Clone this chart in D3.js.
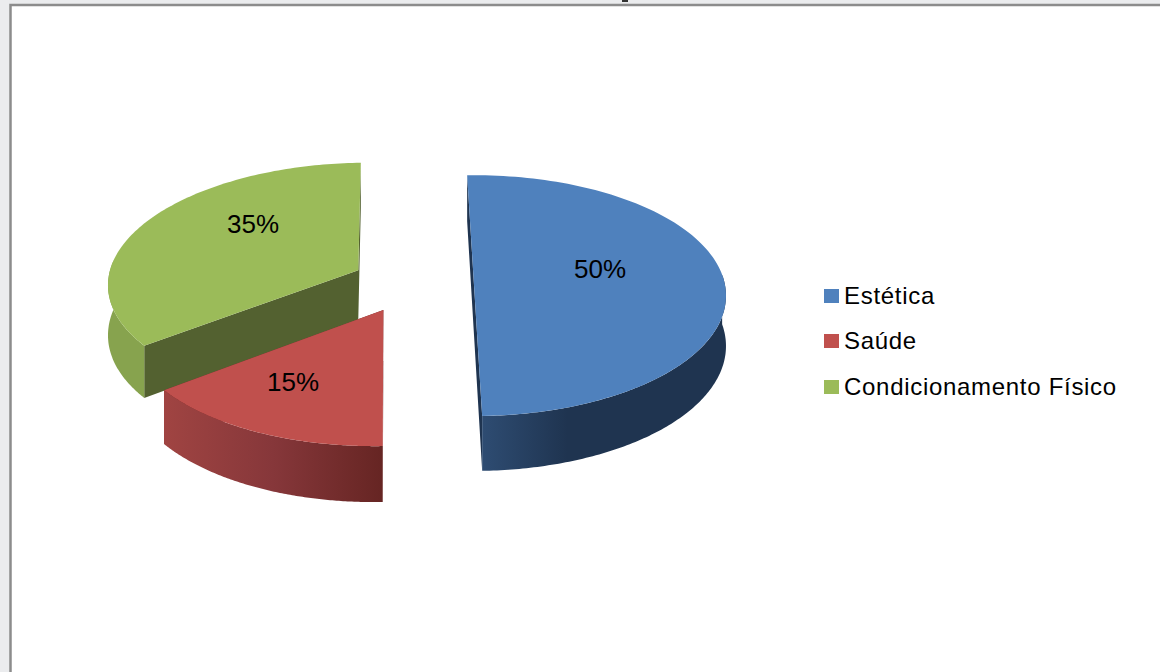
<!DOCTYPE html>
<html><head><meta charset="utf-8">
<script src="https://cdn.jsdelivr.net/npm/d3@7"></script>
<style>html,body{margin:0;padding:0;background:#ebecee;overflow:hidden}svg{display:block}text{font-family:"Liberation Sans",Arial,sans-serif;fill:#000}</style>
</head><body><svg id="c" width="1160" height="672"></svg>
<script>
// Data
const categories = ["Estética", "Saúde", "Condicionamento Físico"];
const values = [50, 15, 35];
const labels = ["50%", "15%", "35%"];
const topColors = ["#4f81bd", "#c0504d", "#9bbb59"];
const wallColors = ["#1f3450", "#662523", "#536130"];
const sideFrom = ["#2e4c72", "#a04442", "#87a34e"];
const sideMid = ["#1f3450", "#86373a", "#87a34e"];
const sideTo = ["#1f3450", "#662523", "#87a34e"];
// Exploded slice offsets on the pie's ground plane (layout)
const explodeX = [0, -89, -117];
const explodeY = [0, 24.5, -15];
const labelPos = [[600, 269], [293, 382], [253, 224]];
const legendY = [296, 341, 387];

// Layout
const x0 = 474, y0 = 285, R = 251, k = 0.476, q = 0.00074, depth = 50;
const svg = d3.select("#c");
const deg = Math.PI / 180;

// Frame
svg.append("rect").attr("x", 10.5).attr("y", 5).attr("width", 1160).attr("height", 680)
  .attr("fill", "#fff").attr("stroke", "#8c8c8c").attr("stroke-width", 2.5);
svg.append("rect").attr("x", 622).attr("y", 0).attr("width", 6).attr("height", 2).attr("fill", "#333");

const pie = d3.pie().sort(null).value(d => d).startAngle(-1.7 * deg).endAngle(358.3 * deg);
const arcs = pie(values);

function project(i, u, v, d) {
  const X = explodeX[i] + R * u, Y = explodeY[i] + R * k * v;
  const w = 1 - q * Y;
  return [x0 + X / w, y0 + (Y + (d || 0)) / w];
}
const onRim = (i, a, d) => project(i, Math.sin(a), -Math.cos(a), d);
const line = d3.line();
const defs = svg.append("defs");

arcs.forEach((s, i) => {
  const g = defs.append("linearGradient").attr("id", "side" + i);
  g.append("stop").attr("offset", "0%").attr("stop-color", sideFrom[i]);
  g.append("stop").attr("offset", i === 0 ? "35%" : "50%").attr("stop-color", sideMid[i]);
  g.append("stop").attr("offset", "100%").attr("stop-color", sideTo[i]);
});

[2, 1, 0].forEach(i => {
  const s = arcs[i], g = svg.append("g");
  const rim = (a, b, d) => d3.range(0, 121).map(t => onRim(i, a + (b - a) * t / 120, d));
  // Cut walls
  const apexT = project(i, 0, 0, 0), apexB = project(i, 0, 0, depth);
  g.append("path").attr("fill", wallColors[i]).attr("d", line([
    onRim(i, s.endAngle, 0), apexT, onRim(i, s.startAngle, 0),
    onRim(i, s.startAngle, depth), apexB, onRim(i, s.endAngle, depth)]) + "Z");
  // Outer rim
  const a = Math.max(s.startAngle, 85 * deg), b = Math.min(s.endAngle, 275 * deg);
  if (b > a) {
    const frontOnly = i === 0 ? [Math.min(a, b), b] : [a, b];
    g.append("path").attr("fill", `url(#side${i})`).attr("d",
      line(rim(frontOnly[0], frontOnly[1], 0).concat(rim(frontOnly[1], frontOnly[0], depth))) + "Z");
  }
  // Top
  g.append("path").attr("fill", topColors[i]).attr("d",
    line([apexT].concat(rim(s.startAngle, s.endAngle, 0))) + "Z");
});

// Data labels
svg.selectAll("text.pct").data(labels).join("text").attr("class", "pct")
  .attr("x", (d, i) => labelPos[i][0]).attr("y", (d, i) => labelPos[i][1])
  .attr("text-anchor", "middle").attr("dominant-baseline", "central")
  .attr("font-size", 26).text(d => d);

// Legend
const legend = svg.selectAll("g.leg").data(categories).join("g").attr("class", "leg")
  .attr("transform", (d, i) => `translate(824,${legendY[i]})`);
legend.append("rect").attr("x", 0).attr("y", -7).attr("width", 15).attr("height", 14)
  .attr("fill", (d, i) => topColors[i]);
legend.append("text").attr("x", 20).attr("y", 8).attr("font-size", 24)
  .attr("letter-spacing", 0.7).text(d => d);
</script></body></html>
